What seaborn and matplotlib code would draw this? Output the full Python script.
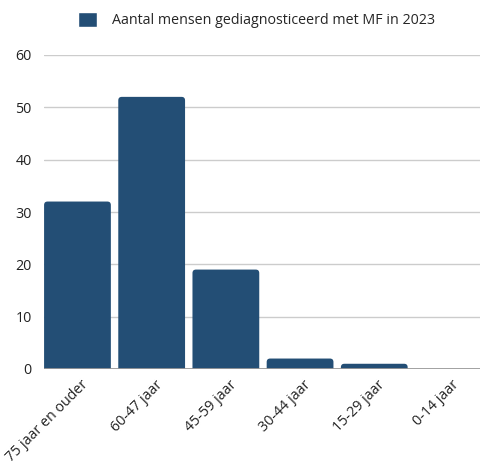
import matplotlib
matplotlib.use("Agg")
import matplotlib.pyplot as plt
import matplotlib.transforms as mtransforms
import pandas as pd
import seaborn as sns
from matplotlib.patches import Patch, FancyBboxPatch

categories = ["75 jaar en ouder", "60-47 jaar", "45-59 jaar", "30-44 jaar", "15-29 jaar", "0-14 jaar"]
counts = [32, 52, 19, 2, 1, 0]
series_name = "Aantal mensen gediagnosticeerd met MF in 2023"
bar_color = "#234e75"

sns.set_style("white")
plt.rcParams["font.family"] = ["Open Sans", "DejaVu Sans"]

df = pd.DataFrame({"categorie": categories, "aantal": counts})

fig = plt.figure(figsize=(4.8, 4.68), dpi=100)
ax = fig.add_axes([44 / 480, 1 - 369 / 468, 436 / 480, 314 / 468])

sns.barplot(data=df, x="categorie", y="aantal", color=bar_color, saturation=1,
            width=0.9, ax=ax, zorder=3)

ax.set_xlim(-0.451, 5.425)
ax.set_ylim(0, 60)

# rounded top corners: swap bars for fancy boxes that dip below 0 (clipped)
rx = 3.5 / 74.2
ry = 3.5 / 5.23
for p in list(ax.patches):
    x, w, h = p.get_x(), p.get_width(), p.get_height()
    p.remove()
    if h <= 0:
        continue
    ax.add_patch(FancyBboxPatch((x, -ry), w, h + ry,
                                boxstyle=f"round,pad=0,rounding_size={rx}",
                                mutation_aspect=ry / rx, facecolor=bar_color,
                                edgecolor="none", zorder=3))

ax.set_yticks(range(0, 61, 10))
ax.yaxis.grid(True, color="#cccccc", linewidth=1, zorder=0)
ax.axhline(0, color="#999999", linewidth=2, zorder=4)
for s in ax.spines.values():
    s.set_visible(False)
ax.tick_params(axis="both", length=0, labelsize=10.3, colors="#222222")
ax.tick_params(axis="y", pad=9)
ax.tick_params(axis="x", pad=6)
ax.set_xlabel("")
ax.set_ylabel("")
shift = mtransforms.ScaledTranslation(0.035, 0, fig.dpi_scale_trans)
for lbl in ax.get_xticklabels():
    lbl.set_rotation(45)
    lbl.set_ha("right")
    lbl.set_rotation_mode("anchor")
    lbl.set_transform(lbl.get_transform() + shift)

fig.legend(handles=[Patch(facecolor=bar_color, label=series_name)],
           loc="center", bbox_to_anchor=(0.535, 1 - 20 / 468), frameon=False,
           fontsize=10.3, handlelength=1.3, handleheight=1.3, handletextpad=1.1)

fig.savefig("out.png", dpi=100)
